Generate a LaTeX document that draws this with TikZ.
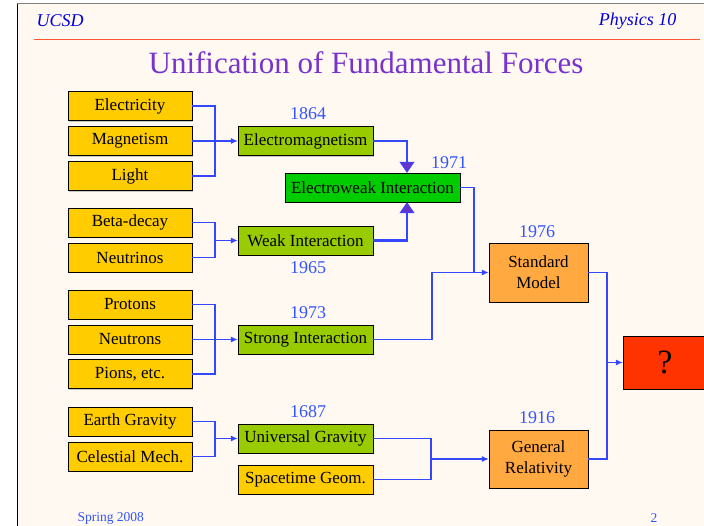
\documentclass[tikz,border=0pt]{standalone}
\usepackage{fontspec}
\setmainfont{Liberation Serif}
\usetikzlibrary{arrows.meta,shadows}

\definecolor{slidebg}{HTML}{FFF9F2}
\definecolor{srcyellow}{HTML}{FFCC00}
\definecolor{midgreen}{HTML}{99CC00}
\definecolor{ewgreen}{HTML}{00CC00}
\definecolor{bigorange}{HTML}{FFA940}
\definecolor{qred}{HTML}{FF3300}
\definecolor{wireblue}{HTML}{3347FF}
\definecolor{yearblue}{HTML}{3355FF}
\definecolor{titlepurple}{HTML}{7733CC}
\definecolor{tippurple}{HTML}{6633CC}
\definecolor{rulered}{HTML}{FF5533}

\begin{document}
\begin{tikzpicture}[x=1pt, y=-1pt, >={Latex[length=7pt,width=6pt]},
    src/.style={draw=black, fill=srcyellow, minimum width=124pt, minimum height=29pt, inner sep=0pt,
        font=\fontsize{17}{21}\selectfont,
        drop shadow={shadow xshift=1.2pt, shadow yshift=-1.2pt, fill=black!35, opacity=0.6}},
    mid/.style={src, fill=midgreen, minimum width=135pt},
    big/.style={src, fill=bigorange, minimum width=99pt, minimum height=59pt, align=center},
    year/.style={text=yearblue, font=\fontsize{18}{20}\selectfont},
    wire/.style={draw=wireblue, line width=1.1pt},
    fat/.style={draw=wireblue, line width=2.6pt,
        -{Triangle[width=15pt,length=11pt,line width=0.8pt,fill=tippurple]}}]
    % 页面和边框
    \useasboundingbox (0,0) rectangle (704,526);
    \fill[white] (0,0) rectangle (704,526);
    \fill[slidebg] (17,4) rectangle (704,526);
    \draw[black, line width=1pt] (17,4) -- (17,526);
    \draw[gray, line width=1pt] (17,4) -- (704,4);

    % 页眉
    \node[anchor=west, text=blue!85!black, font=\fontsize{18}{20}\selectfont\itshape] (hleft) at (33,21) {UCSD};
    \node[anchor=east, text=blue!85!black, font=\fontsize{18}{20}\selectfont\itshape] (hright) at (680,21) {Physics 10};
    \draw[rulered, line width=1.4pt] (34,39.5) -- (700,39.5);
    \node[text=titlepurple, font=\fontsize{31}{34}\selectfont] (title) at (366,63) {Unification of Fundamental Forces};

    % 电磁
    \node[src] (elec) at (130,106) {Electricity};
    \node[src] (magn) at (130,141) {Magnetism};
    \node[src] (light) at (130,176) {Light};
    \node[mid] (em) at (305.5,141) {Electromagnetism};
    \node[year] (y1864) at (308,114) {1864};
    \coordinate (j1) at (215,141);
    \draw[wire] (elec.east) -| (j1) |- (light.east);
    \draw[wire,->] (magn.east) -- (em.west);

    % 弱相互作用
    \node[src] (beta) at (130,222.5) {Beta-decay};
    \node[src] (neut) at (130,257.5) {Neutrinos};
    \node[mid] (weak) at (305.5,240.5) {Weak Interaction};
    \node[year] (y1965) at (308,268) {1965};
    \coordinate (j2) at (215,240.5);
    \draw[wire] (beta.east) -| (j2) |- (neut.east);
    \draw[wire,->] (j2) -- (weak.west);

    % 电弱统一
    \node[src, fill=ewgreen, minimum width=175pt] (ew) at (372.5,187.5) {Electroweak Interaction};
    \node[year] (y1971) at (449,163) {1971};
    \draw[fat] (em.east) -| ([xshift=34.5pt]ew.north);
    \draw[fat] (weak.east) -| ([xshift=34.5pt]ew.south);

    % 强相互作用
    \node[src] (prot) at (130,304.5) {Protons};
    \node[src] (neutr) at (130,339.5) {Neutrons};
    \node[src] (pion) at (130,374) {Pions, etc.};
    \node[mid] (strong) at (305.5,339.5) {Strong Interaction};
    \node[year] (y1973) at (308,313) {1973};
    \coordinate (j3) at (215,339.5);
    \draw[wire] (prot.east) -| (j3) |- (pion.east);
    \draw[wire,->] (neutr.east) -- (strong.west);

    % 引力
    \node[src] (earth) at (130,421.5) {Earth Gravity};
    \node[src] (celest) at (130,456.5) {Celestial Mech.};
    \node[mid] (ug) at (305.5,438.5) {Universal Gravity};
    \node[year] (y1687) at (308,412) {1687};
    \node[src, minimum width=135pt] (sg) at (305.5,479.5) {Spacetime Geom.};
    \coordinate (j4) at (215,438.5);
    \draw[wire] (earth.east) -| (j4) |- (celest.east);
    \draw[wire,->] (j4) -- (ug.west);

    % 标准模型
    \node[big] (sm) at (538.5,272.5) {Standard\\Model};
    \node[year] (y1976) at (537,232) {1976};
    \coordinate (j5) at (474,272.5);
    \coordinate (j6) at (432,272.5);
    \draw[wire,->] (ew.east) -| (j5) -- (sm.west);
    \draw[wire] (strong.east) -| (j6) -- (j5);

    % 广义相对论
    \node[big, minimum height=58pt] (gr) at (538.5,459) {General\\Relativity};
    \node[year] (y1916) at (537,418) {1916};
    \coordinate (j7) at (431,459);
    \draw[wire] (ug.east) -| (j7) |- (sg.east);
    \draw[wire,->] (j7) -- (gr.west);

    % 终极统一
    \node[src, fill=qred, minimum width=84pt, minimum height=53pt, font=\fontsize{34}{36}\selectfont] (q) at (665,362.5) {?};
    \coordinate (j8) at (607,362.5);
    \draw[wire] (sm.east) -| (j8) |- (gr.east);
    \draw[wire,->] (j8) -- (q.west);

    % 页脚
    \node[anchor=west, text=yearblue, font=\fontsize{13.5}{15}\selectfont] (fleft) at (74,518) {Spring 2008};
    \node[text=yearblue, font=\fontsize{13.5}{15}\selectfont] (fright) at (654,518) {2};
\end{tikzpicture}
\end{document}
